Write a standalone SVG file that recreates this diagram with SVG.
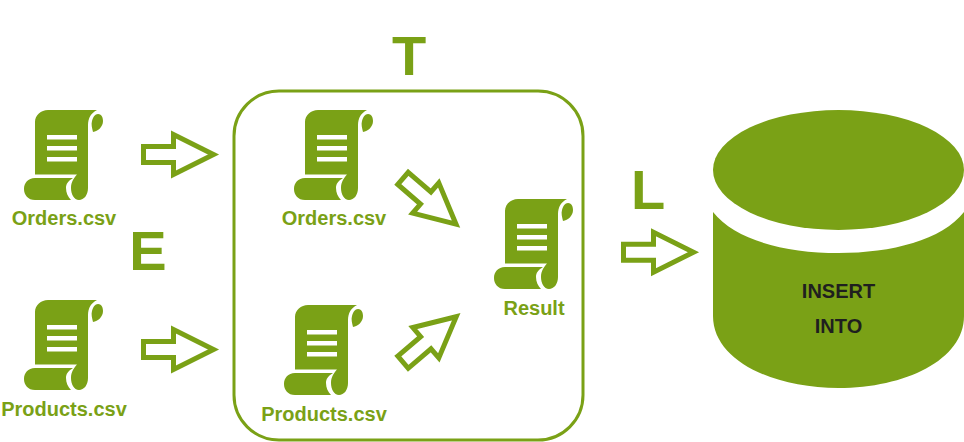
<svg xmlns="http://www.w3.org/2000/svg" width="964" height="442" viewBox="0 0 964 442">
<style>
text{font-family:"Liberation Sans",Arial,sans-serif;font-weight:bold;text-anchor:middle}
.lbl{font-size:20px;fill:#7aa116}
.big{font-size:56px;fill:#7aa116}
.db{font-size:20px;fill:#1f1f1f}
.arrow{fill:#fff;stroke:#7aa116;stroke-width:5;stroke-linejoin:miter}
.fill{fill:#7aa116}
</style>
<defs>
<g id="scroll">
<path class="fill" d="M24 0H73C67 3 64 8 64 15V78C64 85 60 90 55 90C50 90 47 84 47 78C47 72 50 68 53 64.500H11V12C11 5 17 0 24 0Z"/>
<path class="fill" d="M11 68H49C44 71 42 74 42 78C42 83 44 87 47 90H11C4 90 0 85 0 79C0 73 4 68 11 68Z"/>
<path class="fill" d="M74 4C78 4 79 8 79 11C79 17 74 21 69 22C68 18 67 14 68 11C69 7 71 4 74 4Z"/>
<rect x="23" y="25" width="30" height="4.500" fill="#fff"/>
<rect x="23" y="36" width="30" height="4.500" fill="#fff"/>
<rect x="23" y="47" width="30" height="4.500" fill="#fff"/>
</g>
<path id="arrow" class="arrow" d="M0 -8H30V-20L70 0L30 20V8H0Z"/>
</defs>
<g id="extract-orders"><use href="#scroll" x="24" y="110"/><text class="lbl" x="64" y="225">Orders.csv</text></g>
<g id="extract-products"><use href="#scroll" x="24" y="300"/><text class="lbl" x="64" y="416">Products.csv</text></g>
<g id="label-e"><text class="big" x="148" y="270">E</text></g>
<g id="transform-box"><rect x="234" y="91" width="349" height="349" rx="45" fill="none" stroke="#7aa116" stroke-width="3"/></g>
<g id="label-t"><text class="big" x="409" y="75">T</text></g>
<g id="transform-orders"><use href="#scroll" x="294" y="110"/><text class="lbl" x="334" y="225">Orders.csv</text></g>
<g id="transform-products"><use href="#scroll" x="284" y="305"/><text class="lbl" x="324" y="421">Products.csv</text></g>
<g id="result"><use href="#scroll" x="494" y="199"/><text class="lbl" x="534" y="315">Result</text></g>
<g id="label-l"><text class="big" x="648" y="209">L</text></g>
<g id="database">
<ellipse cx="838.500" cy="170" rx="125.500" ry="60" class="fill"/>
<path class="fill" d="M713 212C735 240 785 253 838.500 253C892 253 942 240 964 212V316C964 360 905 388 838.500 388C772 388 713 360 713 316Z"/>
<text class="db" x="838.500" y="298">INSERT</text>
<text class="db" x="838.500" y="333">INTO</text>
</g>
<g id="connectors">
<use href="#arrow" transform="translate(143.500,154.500)"/>
<use href="#arrow" transform="translate(143.500,349.500)"/>
<use href="#arrow" transform="translate(623.500,252.200)"/>
<use href="#arrow" transform="translate(403,178.400) rotate(40.800)"/>
<use href="#arrow" transform="translate(403,362.200) rotate(-40.500)"/>
</g>
</svg>
